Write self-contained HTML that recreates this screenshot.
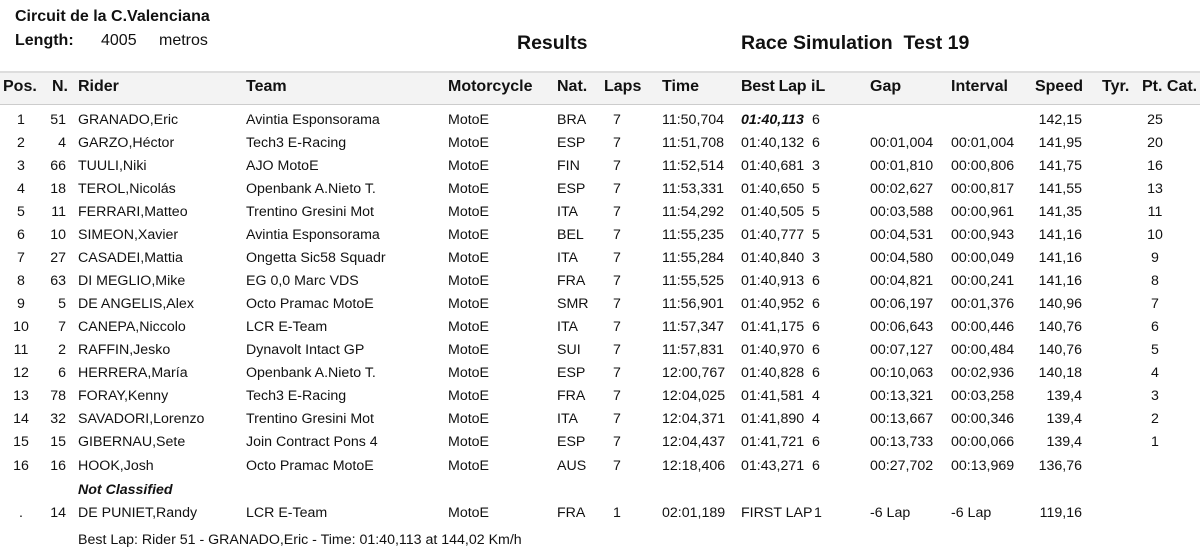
<!DOCTYPE html>
<html><head><meta charset="utf-8"><style>
body{margin:0;width:1200px;height:559px;background:#fff;font-family:"Liberation Sans",Arial,sans-serif;color:#111;position:relative;overflow:hidden}
.a{position:absolute;white-space:nowrap}
.hd{position:absolute;left:0;top:71px;width:1200px;height:34px;background:#f3f3f3;border-top:2px solid #ddd;border-bottom:1px solid #ccc;box-sizing:border-box}
.r{position:absolute;left:0;width:1200px;height:20px;font-size:14.2px;line-height:20px}
.r span{position:absolute;white-space:nowrap}
.c0{left:6px;width:30px;text-align:center}
.c1{left:36px;width:30px;text-align:right}
.c2{left:78px}.c3{left:246px}.c4{left:448px}.c5{left:557px}
.c6{left:600px;width:34px;text-align:center}
.c7{left:662px}.c8{left:741px}
.c9{left:806px;width:20px;text-align:center}
.c10{left:870px}.c11{left:951px}
.c12{left:1020px;width:62px;text-align:right}
.c13{left:1140px;width:30px;text-align:center}
</style></head><body>
<div class="a" style="left:15px;top:8px;font-size:16px;font-weight:bold">Circuit de la C.Valenciana</div>
<div class="a" style="left:15px;top:32px;font-size:16px;font-weight:bold">Length:</div>
<div class="a" style="left:101px;top:32px;font-size:16px">4005</div>
<div class="a" style="left:159px;top:32px;font-size:16px">metros</div>
<div class="a" style="left:517px;top:32px;font-size:19.5px;font-weight:bold">Results</div>
<div class="a" style="left:741px;top:32px;font-size:19.5px;font-weight:bold">Race Simulation&nbsp; Test 19</div>
<div class="hd"></div>
<div class="r" style="top:77px;font-size:16px;font-weight:bold"><span style="left:3px">Pos.</span><span class="c1" style="left:38px">N.</span><span class="c2">Rider</span><span class="c3">Team</span><span class="c4">Motorcycle</span><span class="c5">Nat.</span><span style="left:604px">Laps</span><span class="c7">Time</span><span class="c8" style="letter-spacing:-0.3px">Best Lap</span><span style="left:811px">iL</span><span class="c10">Gap</span><span class="c11">Interval</span><span class="c12" style="left:1020px;width:63px">Speed</span><span style="left:1102px">Tyr.</span><span style="left:1142px">Pt. Cat.</span></div>

<div class="r" style="top:110px"><span class="c0">1</span><span class="c1">51</span><span class="c2">GRANADO,Eric</span><span class="c3">Avintia Esponsorama</span><span class="c4">MotoE</span><span class="c5">BRA</span><span class="c6">7</span><span class="c7">11:50,704</span><span class="c8" style="font-weight:bold;font-style:italic">01:40,113</span><span class="c9">6</span><span class="c12">142,15</span><span class="c13">25</span></div>
<div class="r" style="top:133px"><span class="c0">2</span><span class="c1">4</span><span class="c2">GARZO,Héctor</span><span class="c3">Tech3 E-Racing</span><span class="c4">MotoE</span><span class="c5">ESP</span><span class="c6">7</span><span class="c7">11:51,708</span><span class="c8">01:40,132</span><span class="c9">6</span><span class="c10">00:01,004</span><span class="c11">00:01,004</span><span class="c12">141,95</span><span class="c13">20</span></div>
<div class="r" style="top:156px"><span class="c0">3</span><span class="c1">66</span><span class="c2">TUULI,Niki</span><span class="c3">AJO MotoE</span><span class="c4">MotoE</span><span class="c5">FIN</span><span class="c6">7</span><span class="c7">11:52,514</span><span class="c8">01:40,681</span><span class="c9">3</span><span class="c10">00:01,810</span><span class="c11">00:00,806</span><span class="c12">141,75</span><span class="c13">16</span></div>
<div class="r" style="top:179px"><span class="c0">4</span><span class="c1">18</span><span class="c2">TEROL,Nicolás</span><span class="c3">Openbank A.Nieto T.</span><span class="c4">MotoE</span><span class="c5">ESP</span><span class="c6">7</span><span class="c7">11:53,331</span><span class="c8">01:40,650</span><span class="c9">5</span><span class="c10">00:02,627</span><span class="c11">00:00,817</span><span class="c12">141,55</span><span class="c13">13</span></div>
<div class="r" style="top:202px"><span class="c0">5</span><span class="c1">11</span><span class="c2">FERRARI,Matteo</span><span class="c3">Trentino Gresini Mot</span><span class="c4">MotoE</span><span class="c5">ITA</span><span class="c6">7</span><span class="c7">11:54,292</span><span class="c8">01:40,505</span><span class="c9">5</span><span class="c10">00:03,588</span><span class="c11">00:00,961</span><span class="c12">141,35</span><span class="c13">11</span></div>
<div class="r" style="top:225px"><span class="c0">6</span><span class="c1">10</span><span class="c2">SIMEON,Xavier</span><span class="c3">Avintia Esponsorama</span><span class="c4">MotoE</span><span class="c5">BEL</span><span class="c6">7</span><span class="c7">11:55,235</span><span class="c8">01:40,777</span><span class="c9">5</span><span class="c10">00:04,531</span><span class="c11">00:00,943</span><span class="c12">141,16</span><span class="c13">10</span></div>
<div class="r" style="top:248px"><span class="c0">7</span><span class="c1">27</span><span class="c2">CASADEI,Mattia</span><span class="c3">Ongetta Sic58 Squadr</span><span class="c4">MotoE</span><span class="c5">ITA</span><span class="c6">7</span><span class="c7">11:55,284</span><span class="c8">01:40,840</span><span class="c9">3</span><span class="c10">00:04,580</span><span class="c11">00:00,049</span><span class="c12">141,16</span><span class="c13">9</span></div>
<div class="r" style="top:271px"><span class="c0">8</span><span class="c1">63</span><span class="c2">DI MEGLIO,Mike</span><span class="c3">EG 0,0 Marc VDS</span><span class="c4">MotoE</span><span class="c5">FRA</span><span class="c6">7</span><span class="c7">11:55,525</span><span class="c8">01:40,913</span><span class="c9">6</span><span class="c10">00:04,821</span><span class="c11">00:00,241</span><span class="c12">141,16</span><span class="c13">8</span></div>
<div class="r" style="top:294px"><span class="c0">9</span><span class="c1">5</span><span class="c2">DE ANGELIS,Alex</span><span class="c3">Octo Pramac MotoE</span><span class="c4">MotoE</span><span class="c5">SMR</span><span class="c6">7</span><span class="c7">11:56,901</span><span class="c8">01:40,952</span><span class="c9">6</span><span class="c10">00:06,197</span><span class="c11">00:01,376</span><span class="c12">140,96</span><span class="c13">7</span></div>
<div class="r" style="top:317px"><span class="c0">10</span><span class="c1">7</span><span class="c2">CANEPA,Niccolo</span><span class="c3">LCR E-Team</span><span class="c4">MotoE</span><span class="c5">ITA</span><span class="c6">7</span><span class="c7">11:57,347</span><span class="c8">01:41,175</span><span class="c9">6</span><span class="c10">00:06,643</span><span class="c11">00:00,446</span><span class="c12">140,76</span><span class="c13">6</span></div>
<div class="r" style="top:340px"><span class="c0">11</span><span class="c1">2</span><span class="c2">RAFFIN,Jesko</span><span class="c3">Dynavolt Intact GP</span><span class="c4">MotoE</span><span class="c5">SUI</span><span class="c6">7</span><span class="c7">11:57,831</span><span class="c8">01:40,970</span><span class="c9">6</span><span class="c10">00:07,127</span><span class="c11">00:00,484</span><span class="c12">140,76</span><span class="c13">5</span></div>
<div class="r" style="top:363px"><span class="c0">12</span><span class="c1">6</span><span class="c2">HERRERA,María</span><span class="c3">Openbank A.Nieto T.</span><span class="c4">MotoE</span><span class="c5">ESP</span><span class="c6">7</span><span class="c7">12:00,767</span><span class="c8">01:40,828</span><span class="c9">6</span><span class="c10">00:10,063</span><span class="c11">00:02,936</span><span class="c12">140,18</span><span class="c13">4</span></div>
<div class="r" style="top:386px"><span class="c0">13</span><span class="c1">78</span><span class="c2">FORAY,Kenny</span><span class="c3">Tech3 E-Racing</span><span class="c4">MotoE</span><span class="c5">FRA</span><span class="c6">7</span><span class="c7">12:04,025</span><span class="c8">01:41,581</span><span class="c9">4</span><span class="c10">00:13,321</span><span class="c11">00:03,258</span><span class="c12">139,4</span><span class="c13">3</span></div>
<div class="r" style="top:409px"><span class="c0">14</span><span class="c1">32</span><span class="c2">SAVADORI,Lorenzo</span><span class="c3">Trentino Gresini Mot</span><span class="c4">MotoE</span><span class="c5">ITA</span><span class="c6">7</span><span class="c7">12:04,371</span><span class="c8">01:41,890</span><span class="c9">4</span><span class="c10">00:13,667</span><span class="c11">00:00,346</span><span class="c12">139,4</span><span class="c13">2</span></div>
<div class="r" style="top:432px"><span class="c0">15</span><span class="c1">15</span><span class="c2">GIBERNAU,Sete</span><span class="c3">Join Contract Pons 4</span><span class="c4">MotoE</span><span class="c5">ESP</span><span class="c6">7</span><span class="c7">12:04,437</span><span class="c8">01:41,721</span><span class="c9">6</span><span class="c10">00:13,733</span><span class="c11">00:00,066</span><span class="c12">139,4</span><span class="c13">1</span></div>
<div class="r" style="top:456px"><span class="c0">16</span><span class="c1">16</span><span class="c2">HOOK,Josh</span><span class="c3">Octo Pramac MotoE</span><span class="c4">MotoE</span><span class="c5">AUS</span><span class="c6">7</span><span class="c7">12:18,406</span><span class="c8">01:43,271</span><span class="c9">6</span><span class="c10">00:27,702</span><span class="c11">00:13,969</span><span class="c12">136,76</span></div>
<div class="r" style="top:480px"><span class="c2" style="font-weight:bold;font-style:italic">Not Classified</span></div>
<div class="r" style="top:503px"><span class="c0">.</span><span class="c1">14</span><span class="c2">DE PUNIET,Randy</span><span class="c3">LCR E-Team</span><span class="c4">MotoE</span><span class="c5">FRA</span><span class="c6">1</span><span class="c7">02:01,189</span><span class="c8">FIRST LAP</span><span class="c9" style="left:808px">1</span><span class="c10">-6 Lap</span><span class="c11">-6 Lap</span><span class="c12">119,16</span></div>
<div class="r" style="top:530px"><span class="c2">Best Lap: Rider 51 - GRANADO,Eric - Time: 01:40,113 at 144,02 Km/h</span></div>
</body></html>
